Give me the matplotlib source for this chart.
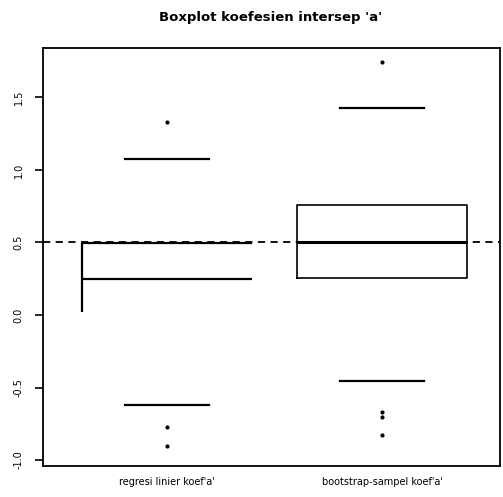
import matplotlib
matplotlib.use("Agg")
import matplotlib.pyplot as plt

# boxplot koefesien intersep 'a'
labels = ["regresi linier koef'a'", "bootstrap-sampel koef'a'"]
med = [0.497, 0.503]
q1 = [0.248, 0.255]
q3 = [0.497, 0.76]
whislo = [-0.62, -0.455]
whishi = [1.076, 1.43]
fliers = [[1.33, -0.77, -0.90], [1.745, -0.67, -0.70, -0.83]]
leftLineBottom = 0.02   # stray vertical line on first box
trueValue = 0.5
yticks = [-1.0, -0.5, 0.0, 0.5, 1.0, 1.5]

fig = plt.figure(figsize=(5.03, 4.97), dpi=100)
ax = fig.add_axes([43/503, 31/497, 457/503, 418/497])

stats = []
for i in range(2):
    stats.append({"med": med[i], "q1": q1[i], "q3": q3[i],
                  "whislo": whislo[i], "whishi": whishi[i],
                  "fliers": fliers[i], "label": labels[i]})

flierprops = dict(marker="o", markersize=2, markerfacecolor="black",
                  markeredgecolor="black", linestyle="none")
# first box: drawn without side edges, like the reference
ax.bxp([stats[0]], positions=[1], widths=0.79, showcaps=True,
       boxprops=dict(linewidth=0), whiskerprops=dict(linestyle="none"),
       capprops=dict(color="black", linewidth=1.6),
       medianprops=dict(color="black", linewidth=1.6),
       flierprops=flierprops)
ax.hlines(q1[0], 1 - 0.395, 1 + 0.395, color="black", linewidth=1.6)
ax.vlines(1 - 0.395, leftLineBottom, med[0], color="black", linewidth=1.6)

ax.bxp([stats[1]], positions=[2], widths=0.79, showcaps=True,
       boxprops=dict(color="black", linewidth=1.2),
       whiskerprops=dict(linestyle="none"),
       capprops=dict(color="black", linewidth=1.6),
       medianprops=dict(color="black", linewidth=2.2),
       flierprops=flierprops)

ax.axhline(trueValue, color="black", linestyle=(0, (4, 3)), linewidth=1.3)

ax.set_xlim(0.423, 2.549)
ax.set_ylim(-1.041, 1.841)
ax.set_xticks([1, 2])
ax.set_xticklabels(labels, fontsize=7)
ax.tick_params(axis="x", length=0, pad=8)
ax.set_yticks(yticks)
ax.set_yticklabels([str(t) for t in yticks], rotation=90, fontsize=7, va="center")
ax.tick_params(axis="y", length=6, width=1.2, pad=8)
for s in ax.spines.values():
    s.set_linewidth(1.3)

fig.text(271/503, 1 - 17/497, "Boxplot koefesien intersep 'a'", ha="center",
         va="center", fontsize=9.5, fontweight="bold")

fig.savefig("out.png", dpi=100)
